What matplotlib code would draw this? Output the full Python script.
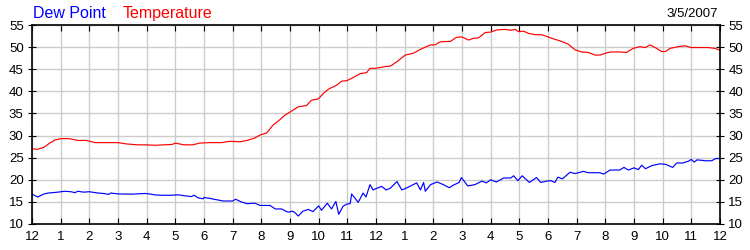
import matplotlib
matplotlib.use("Agg")
import matplotlib.pyplot as plt

temp_hours = [0.0, 0.2, 0.4, 0.6, 0.8, 1.0, 1.3, 1.6, 1.9, 2.2, 2.6, 3.0, 3.3, 3.7, 4.0, 4.3, 4.6, 4.9,
              5.0, 5.3, 5.6, 5.85, 6.2, 6.6, 6.9, 7.26, 7.5, 7.75, 7.95, 8.19, 8.4, 8.65, 8.82, 9.0,
              9.29, 9.58, 9.75, 9.99, 10.16, 10.34, 10.63, 10.8, 10.98, 11.2, 11.44, 11.67, 11.79,
              12.0, 12.32, 12.5, 12.73, 13.02, 13.3, 13.55, 13.9, 14.06, 14.24, 14.6, 14.8, 15.0,
              15.23, 15.4, 15.58, 15.81, 16.0, 16.22, 16.51, 16.7, 16.86, 16.97, 17.15, 17.32, 17.56,
              17.79, 17.96, 18.13, 18.42, 18.7, 18.94, 19.17, 19.4, 19.64, 19.82, 20.04, 20.2, 20.5,
              20.74, 20.97, 21.2, 21.4, 21.55, 21.74, 21.96, 22.1, 22.25, 22.54, 22.78, 23.0, 23.3,
              23.59, 23.83, 24.0]
temperature = [27.0, 26.9, 27.3, 28.2, 29.0, 29.3, 29.3, 28.9, 28.9, 28.4, 28.4, 28.4, 28.1, 27.9, 27.9,
               27.8, 27.9, 28.0, 28.3, 27.9, 27.9, 28.3, 28.4, 28.4, 28.7, 28.6, 28.9, 29.4, 30.1, 30.6,
               32.3, 33.6, 34.6, 35.3, 36.5, 36.8, 38.0, 38.3, 39.5, 40.5, 41.4, 42.3, 42.4, 43.1, 44.0,
               44.2, 45.2, 45.2, 45.6, 45.7, 46.7, 48.2, 48.6, 49.5, 50.5, 50.5, 51.2, 51.3, 52.2, 52.3,
               51.6, 52.0, 52.1, 53.3, 53.4, 53.9, 54.0, 53.8, 54.0, 53.5, 53.6, 53.1, 52.8, 52.8, 52.4,
               52.0, 51.4, 50.7, 49.4, 48.9, 48.8, 48.2, 48.2, 48.7, 48.9, 48.9, 48.8, 49.7, 50.1, 49.9,
               50.5, 49.9, 49.0, 49.0, 49.7, 50.1, 50.3, 49.9, 49.9, 49.9, 49.7, 49.3]

dew_hours = [0.0, 0.2, 0.4, 0.56, 0.9, 1.14, 1.35, 1.5, 1.6, 1.8, 2.0, 2.3, 2.5, 2.67, 2.75, 3.0, 3.5,
             3.93, 4.1, 4.27, 4.5, 4.86, 5.1, 5.3, 5.56, 5.65, 5.8, 5.97, 6.0, 6.2, 6.35, 6.67, 7.0, 7.1,
             7.3, 7.49, 7.78, 7.95, 8.3, 8.49, 8.71, 8.85, 8.94, 9.1, 9.2, 9.29, 9.45, 9.64, 9.8, 10.0,
             10.1, 10.3, 10.45, 10.6, 10.7, 10.85, 10.98, 11.1, 11.15, 11.38, 11.55, 11.65, 11.79, 11.9,
             12.0, 12.2, 12.35, 12.5, 12.73, 12.9, 13.05, 13.42, 13.55, 13.66, 13.72, 13.9, 14.13, 14.35,
             14.56, 14.7, 14.9, 14.98, 15.2, 15.45, 15.7, 15.85, 16.0, 16.2, 16.45, 16.7, 16.8, 16.95,
             17.1, 17.35, 17.6, 17.75, 17.96, 18.1, 18.24, 18.35, 18.5, 18.77, 18.95, 19.23, 19.4, 19.8,
             19.95, 20.16, 20.5, 20.65, 20.8, 21.0, 21.15, 21.27, 21.4, 21.62, 21.9, 22.1, 22.35, 22.49,
             22.7, 22.9, 23.0, 23.1, 23.2, 23.5, 23.71, 23.85, 24.0]
dew_point = [16.75, 16.1, 16.75, 17.0, 17.2, 17.4, 17.3, 17.1, 17.4, 17.2, 17.3, 17.0, 16.9, 16.7, 17.0,
             16.8, 16.75, 16.9, 16.8, 16.6, 16.5, 16.5, 16.6, 16.4, 16.2, 16.5, 15.9, 15.7, 16.0, 15.8,
             15.6, 15.2, 15.2, 15.6, 15.0, 14.6, 14.7, 14.2, 14.2, 13.4, 13.4, 12.9, 12.7, 12.9, 12.4,
             11.8, 12.9, 13.3, 12.8, 14.1, 13.1, 14.7, 13.4, 15.1, 12.2, 14.0, 14.5, 14.6, 16.8, 14.9,
             17.0, 16.1, 18.9, 17.7, 18.0, 18.5, 17.7, 18.1, 19.6, 17.7, 18.1, 19.3, 17.7, 19.4, 17.4,
             18.9, 19.5, 18.9, 18.2, 18.8, 19.4, 20.5, 18.6, 18.9, 19.7, 19.3, 20.0, 19.5, 20.4, 20.4,
             20.9, 19.8, 20.9, 19.4, 20.5, 19.4, 19.7, 19.8, 19.4, 20.6, 20.2, 21.7, 21.4, 21.9, 21.6,
             21.6, 21.3, 22.2, 22.2, 22.8, 22.2, 22.7, 22.3, 23.3, 22.5, 23.2, 23.6, 23.5, 22.8, 23.8,
             23.8, 24.2, 24.6, 24.0, 24.5, 24.3, 24.3, 24.8, 24.8]

hour_ticks = list(range(0, 25))
hour_labels = ["12", "1", "2", "3", "4", "5", "6", "7", "8", "9", "10", "11",
               "12", "1", "2", "3", "4", "5", "6", "7", "8", "9", "10", "11", "12"]
y_ticks = [10, 15, 20, 25, 30, 35, 40, 45, 50, 55]

plt.rcParams['font.family'] = ['Liberation Sans', 'DejaVu Sans']

fig = plt.figure(figsize=(7.5, 2.5), dpi=100)
ax = fig.add_axes([32/750, 26/250, 688/750, 199/250])

ax.plot(dew_hours, dew_point, color='#0000ff', lw=0.85)
ax.plot(temp_hours, temperature, color='#ff0000', lw=0.85)

ax.set_xlim(0, 24)
ax.set_ylim(10, 55)
ax.set_xticks(hour_ticks)
ax.set_xticklabels(hour_labels)
ax.set_yticks(y_ticks)
ax.grid(True, color='#cccccc', lw=1.0)
ax.set_axisbelow(True)
for s in ax.spines.values():
    s.set_color('black')
    s.set_linewidth(1.2)

ax.tick_params(axis='x', direction='in', length=4, top=True, bottom=True,
               labelsize=9.5, pad=5, colors='black')
ax.tick_params(axis='y', direction='inout', length=6, left=True, right=True,
               labelleft=True, labelright=True, labelsize=9.5, pad=3, colors='black')

fig.text(33/750, 1 - 17.5/250, "Dew Point", color='#0000ff', fontsize=11.5,
         ha='left', va='baseline')
fig.text(123/750, 1 - 17.5/250, "Temperature", color='#ff0000', fontsize=11.5,
         ha='left', va='baseline')
fig.text(718/750, 1 - 17/250, "3/5/2007", color='black', fontsize=9.5,
         ha='right', va='baseline')

fig.savefig("out.png", dpi=100)
